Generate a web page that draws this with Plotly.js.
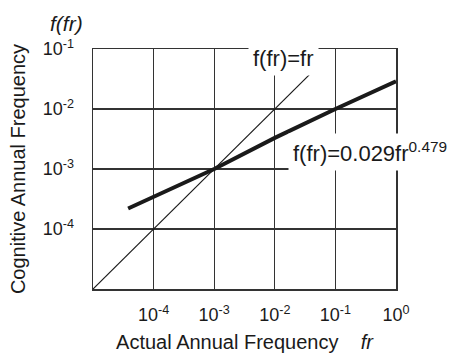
<!DOCTYPE html>
<html>
<head>
<meta charset="utf-8">
<script src="https://cdn.plot.ly/plotly-3.0.1.min.js"></script>
<style>html,body{margin:0;padding:0;background:#fff;}#chart{width:457px;height:363px;}</style>
</head>
<body>
<div id="chart"></div>
<script>
// identity line f(fr)=fr
const identX = [1e-5, 3.7e-2];
const identY = [1e-5, 3.7e-2];
// fitted line f(fr)=0.029 fr^0.479
const fitX = [3.8e-5, 1e-3, 1e-2, 1e-1, 1];
const fitY = [2.2e-4, 1.0e-3, 3.3e-3, 1.0e-2, 2.9e-2];
// tick labels
const xTickVals = [1e-4, 1e-3, 1e-2, 1e-1, 1];
const xTickText = ['10<sup>-4</sup>', '10<sup>-3</sup>', '10<sup>-2</sup>', '10<sup>-1</sup>', '10<sup>0</sup>'];
const yTickVals = [1e-4, 1e-3, 1e-2, 1e-1];
const yTickText = ['10<sup>-4</sup>', '10<sup>-3</sup>', '10<sup>-2</sup>', '10<sup>-1</sup>'];

const FONT = 'Liberation Sans, Arial, Helvetica, sans-serif';
const INK = '#1a1a1a';

const traces = [
  {x: identX, y: identY, mode: 'lines', line: {color: INK, width: 1.2}, hoverinfo: 'skip'},
  {x: fitX, y: fitY, mode: 'lines', line: {color: INK, width: 4}, hoverinfo: 'skip'}
];

const layout = {
  width: 457, height: 363,
  margin: {l: 93, r: 61, t: 49, b: 74},
  paper_bgcolor: '#ffffff', plot_bgcolor: '#ffffff',
  showlegend: false,
  font: {family: FONT, color: INK},
  xaxis: {
    type: 'log', range: [-5, 0],
    tickvals: xTickVals, ticktext: xTickText,
    tickfont: {size: 18, color: INK},
    ticks: '', ticklabelstandoff: 9,
    showgrid: true, gridcolor: '#333', gridwidth: 1.2,
    showline: true, mirror: true, linecolor: '#333', linewidth: 1.5,
    zeroline: false,
    title: {text: 'Actual Annual Frequency\u00a0\u00a0\u00a0 <i>fr</i>', font: {size: 20, color: INK}, standoff: 11}
  },
  yaxis: {
    type: 'log', range: [-5, -1],
    tickvals: yTickVals, ticktext: yTickText,
    tickfont: {size: 18, color: INK},
    ticks: '', ticklabelstandoff: 14,
    showgrid: true, gridcolor: '#333', gridwidth: 1.2,
    showline: true, mirror: true, linecolor: '#333', linewidth: 1.5,
    zeroline: false,
    title: {text: 'Cognitive Annual Frequency', font: {size: 20, color: INK}, standoff: 11}
  },
  annotations: [
    {xref: 'paper', yref: 'paper', x: 0.630, y: 0.962, text: 'f(fr)=fr', showarrow: false,
     font: {size: 22, color: INK}, bgcolor: '#ffffff', borderpad: 4, xanchor: 'center', yanchor: 'middle'},
    {xref: 'paper', yref: 'paper', x: 0.645, y: 0.571, text: 'f(fr)=0.029fr<sup>0.479</sup>', showarrow: false,
     font: {size: 22, color: INK}, bgcolor: '#ffffff', borderpad: 4, xanchor: 'left', yanchor: 'middle'},
    {xref: 'paper', yref: 'paper', x: -0.089, y: 1.108, text: '<i>f(fr)</i>', showarrow: false,
     font: {size: 21, color: INK}, xanchor: 'center', yanchor: 'middle'}
  ]
};

Plotly.newPlot('chart', traces, layout, {staticPlot: true, displayModeBar: false});
</script>
</body>
</html>
